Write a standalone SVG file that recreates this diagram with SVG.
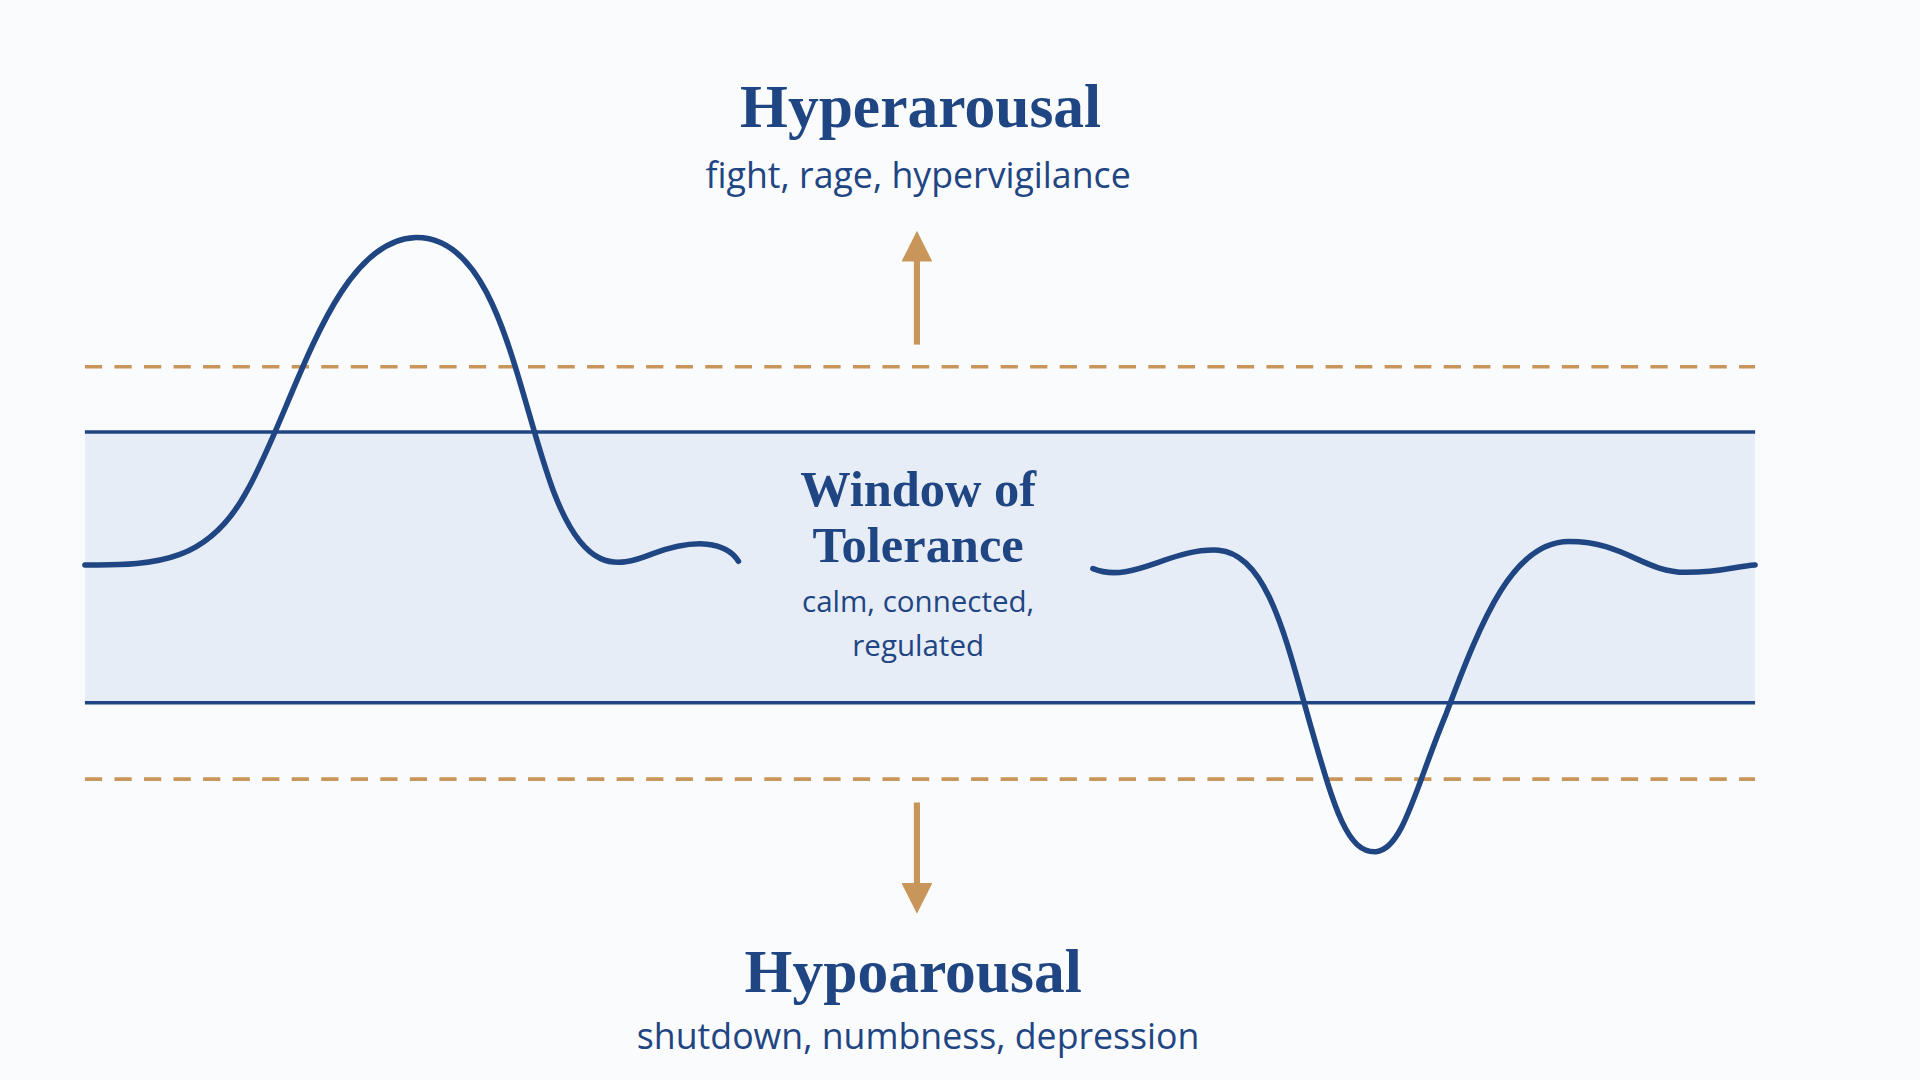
<svg xmlns="http://www.w3.org/2000/svg" width="1920" height="1080" viewBox="0 0 1920 1080">
<style>
.t{font-family:"Liberation Serif",serif;font-weight:bold;fill:#1f4583;text-anchor:middle}
.s{font-family:"Open Sans","Noto Sans",sans-serif;fill:#1f4583;text-anchor:middle}
.dash{stroke:#c8955a;stroke-width:3;stroke-dasharray:14 10;fill:none}
.solid{stroke:#1f4583;stroke-width:3;fill:none}
.curve{stroke:#1f4583;stroke-width:4.5;fill:none;stroke-linecap:round}
.arr{stroke:#c8955a;stroke-width:5;fill:none}
</style>
<defs><marker id="ah" viewBox="0 0 10 10" refX="5" refY="5" markerWidth="5" markerHeight="5" orient="auto"><path d="M0,0 L10,5 L0,10 Z" fill="#c8955a"/></marker></defs>
<rect width="1920" height="1080" fill="#fafbfc"/>
<g transform="scale(1.230769)">
<g id="band">
<rect x="69" y="351" width="1357" height="220" fill="#e6edf6"/>
<line class="solid" x1="69" y1="351" x2="1426" y2="351"/>
<line class="solid" x1="69" y1="571" x2="1426" y2="571"/>
<line class="dash" x1="69" y1="298" x2="1426" y2="298"/>
<line class="dash" x1="69" y1="633" x2="1426" y2="633"/>
</g>
<g id="connectors">
<line class="arr" x1="745" y1="280" x2="745" y2="200" marker-end="url(#ah)"/>
<line class="arr" x1="745" y1="652" x2="745" y2="730" marker-end="url(#ah)"/>
<path class="curve" d="M69,459 C130,460 170,455 200,400 C240,330 270,195 338,193 C405,192 420,320 450,400 C475,465 500,462 530,450 C565,437 590,440 600,456"/>
<path class="curve" d="M888,462 C920,475 950,445 990,447 C1030,450 1045,520 1065,590 C1085,660 1095,693 1118,692 C1140,690 1150,640 1175,580 C1205,500 1230,440 1275,440 C1320,440 1335,465 1370,465 C1400,465 1410,460 1426,459"/>
</g>
<g id="hyper">
<text class="t" x="748" y="103" font-size="50">Hyperarousal</text>
<text class="s" x="746" y="153" font-size="29">fight, rage, hypervigilance</text>
</g>
<g id="window">
<text class="t" x="746" y="411" font-size="41">Window of</text>
<text class="t" x="746" y="457" font-size="41">Tolerance</text>
<text class="s" x="746" y="497" font-size="24">calm, connected,</text>
<text class="s" x="746" y="533" font-size="24">regulated</text>
</g>
<g id="hypo">
<text class="t" x="742" y="806" font-size="50">Hypoarousal</text>
<text class="s" x="746" y="852" font-size="29">shutdown, numbness, depression</text>
</g>
</g>
</svg>
